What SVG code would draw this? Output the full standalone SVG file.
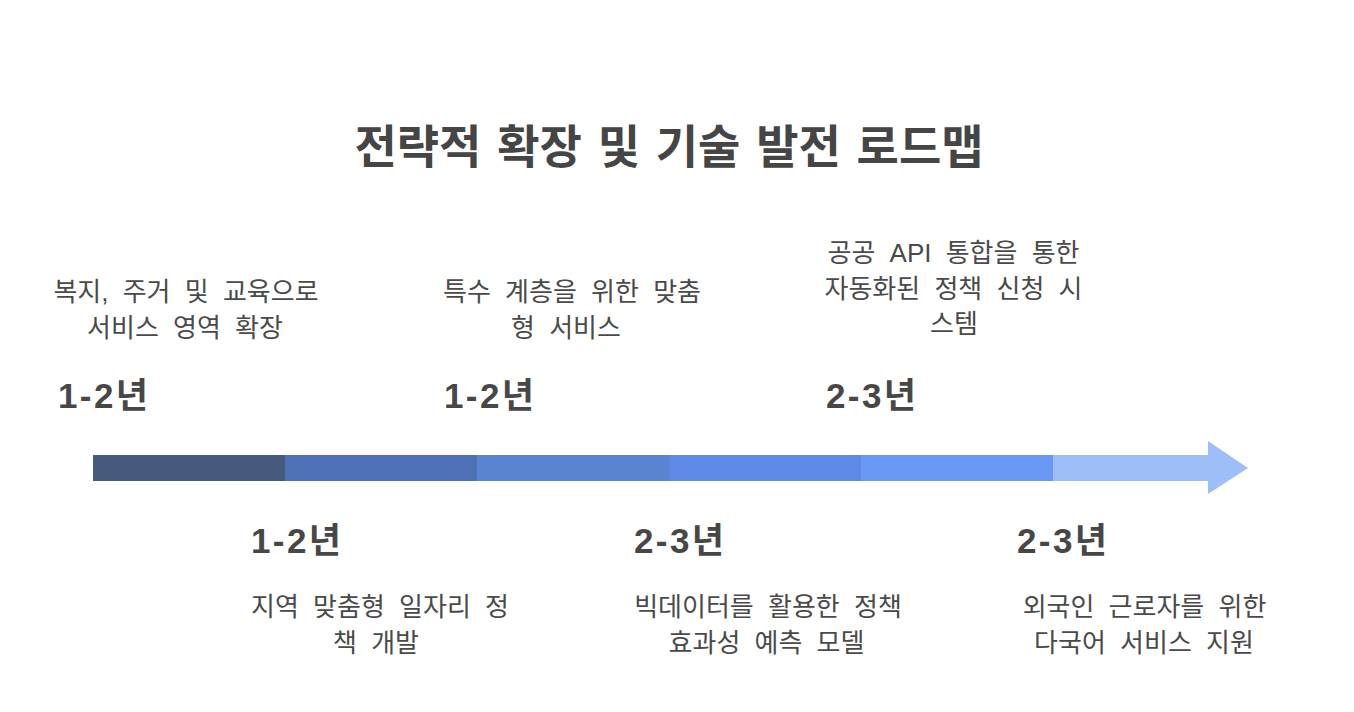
<svg xmlns="http://www.w3.org/2000/svg" width="1354" height="712" viewBox="0 0 1354 712">
<style>
.title{font-family:"Liberation Sans","Noto Sans CJK KR",sans-serif;font-size:46px;font-weight:bold;fill:#454545;text-anchor:middle;word-spacing:3px}
.lbl{font-family:"Liberation Sans","Noto Sans CJK KR",sans-serif;font-size:26px;fill:#4a4a4a;text-anchor:middle;word-spacing:7px}
.yr{font-family:"Liberation Sans","Noto Sans CJK KR",sans-serif;font-size:35px;font-weight:bold;fill:#474747}
</style>
<rect width="1354" height="712" fill="#ffffff"/>
<text class="title" x="669" y="163">전략적 확장 및 기술 발전 로드맵</text>
<g id="connectors">
<rect x="93" y="455" width="192" height="26" fill="#465a7c"/>
<rect x="285" y="455" width="192" height="26" fill="#4e70b6"/>
<rect x="477" y="455" width="192" height="26" fill="#5a83d2"/>
<rect x="669" y="455" width="192" height="26" fill="#5e8ae6"/>
<rect x="861" y="455" width="192" height="26" fill="#6a99f5"/>
<polygon points="1053,455 1208,455 1208,441 1248,468 1208,494 1208,481 1053,481" fill="#9ebefa"/>
</g>
<g id="item1">
<text class="lbl" x="186" y="301">복지, 주거 및 교육으로</text>
<text class="lbl" x="185" y="337">서비스 영역 확장</text>
<text class="yr" x="58" y="408" textLength="90">1-2년</text>
</g>
<g id="item2">
<text class="yr" x="251" y="553" textLength="90">1-2년</text>
<text class="lbl" x="380" y="616">지역 맞춤형 일자리 정</text>
<text class="lbl" x="376" y="652">책 개발</text>
</g>
<g id="item3">
<text class="lbl" x="572" y="301">특수 계층을 위한 맞춤</text>
<text class="lbl" x="566" y="337">형 서비스</text>
<text class="yr" x="444" y="408" textLength="90">1-2년</text>
</g>
<g id="item4">
<text class="yr" x="634" y="553" textLength="90">2-3년</text>
<text class="lbl" x="768" y="616">빅데이터를 활용한 정책</text>
<text class="lbl" x="766.5" y="652">효과성 예측 모델</text>
</g>
<g id="item5">
<text class="lbl" x="953.5" y="262">공공 API 통합을 통한</text>
<text class="lbl" x="953.5" y="298">자동화된 정책 신청 시</text>
<text class="lbl" x="954" y="333">스템</text>
<text class="yr" x="826" y="408" textLength="90">2-3년</text>
</g>
<g id="item6">
<text class="yr" x="1017" y="553" textLength="90">2-3년</text>
<text class="lbl" x="1144.5" y="616">외국인 근로자를 위한</text>
<text class="lbl" x="1144" y="652">다국어 서비스 지원</text>
</g>
</svg>
